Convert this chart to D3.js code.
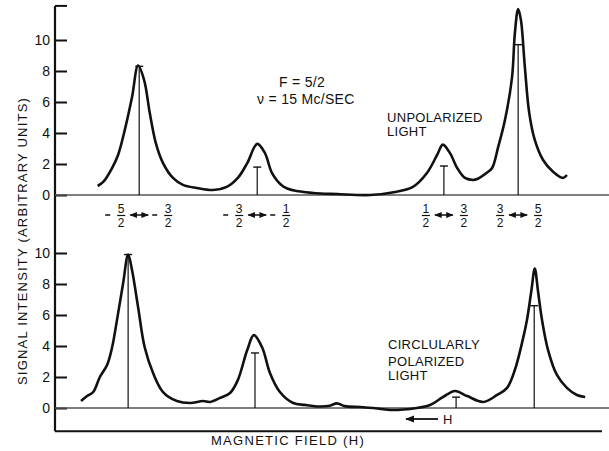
<!DOCTYPE html>
<html><head><meta charset="utf-8">
<script src="https://cdn.jsdelivr.net/npm/d3@7"></script>
<style>
body{margin:0;background:#fff;}
svg{display:block;}
text{font-family:"Liberation Sans",Arial,sans-serif;fill:#111;}
</style></head>
<body><svg id="c" width="609" height="451"></svg>
<script>
// ---- data (field in arbitrary units, intensity in arbitrary units) ----
const unpolField = [7.7,8.7,10.3,11.4,12.6,13.9,15.0,16.1,17.1,18.2,19.5,21.3,23.1,25.6,28.5,31.0,33.0,34.7,36.5,37.9,39.2,41.2,43.0,46.6,50.9,56.9,61.4,64.6,67.1,69.0,70.0,71.3,72.6,74.0,75.5,76.2,78.0,78.9,80.0,81.2,82.5,83.0,83.6,84.1,84.8,85.6,86.6,88.1,89.9,91.7,92.4];
const unpolSignal = [0.58,0.84,1.74,2.6,4.2,6.3,8.35,7.4,5.3,3.35,2.06,1.1,0.65,0.45,0.32,0.52,1.1,2.06,3.3,2.7,1.4,0.55,0.3,0.13,0.06,0.0,0.2,0.52,1.4,2.6,3.25,2.7,1.74,1.1,0.97,1.03,1.45,1.74,3.1,4.8,7.6,10.4,12.0,11.3,8.3,5.3,3.55,2.26,1.5,1.1,1.29];
const circField = [4.7,5.8,6.9,8.1,9.4,10.3,11.2,12.3,13.2,13.9,15.0,16.2,17.7,19.5,22.0,24.4,26.7,28.0,29.8,31.6,33.0,34.7,35.9,37.4,38.8,40.6,43.0,45.1,47.8,49.6,50.9,52.3,55.1,57.4,60.5,65.3,67.7,70.0,72.2,74.4,77.3,79.8,81.6,83.0,84.3,85.2,86.0,86.6,87.2,87.9,89.0,90.6,92.4,94.2,95.7];
const circSignal = [0.45,0.77,1.03,2.0,2.77,3.9,5.7,8.06,9.9,8.9,6.5,3.9,2.26,1.03,0.45,0.32,0.45,0.39,0.65,0.97,1.8,3.74,4.7,3.9,2.26,1.03,0.32,0.2,0.1,0.15,0.3,0.12,0.06,0.0,-0.13,0.0,0.19,0.7,1.1,0.77,0.39,0.84,1.3,2.45,4.2,5.7,7.6,9.0,7.5,5.7,3.74,2.13,1.3,0.84,0.71];
// theoretical line positions and heights
const unpolLineField = [15.2,36.5,70.2,83.6];
const unpolLineHeight = [8.3,1.8,1.87,9.7];
const circLineField = [13.2,36.1,72.4,86.5];
const circLineHeight = [9.9,3.55,0.7,6.6];
// transition labels  (m_F -> m_F')
const transLeft = [["-","5"],["-","3"],["","1"],["","3"]];
const transRight = [["-","3"],["-","1"],["","3"],["","5"]];
const yTicks = [0,2,4,6,8,10];

const svg = d3.select("#c");
const x = d3.scaleLinear().domain([0,100]).range([55,609]);
const yTop = d3.scaleLinear().domain([0,10]).range([195,40]);
const yBot = d3.scaleLinear().domain([0,10]).range([408,253]);

// vertical axis line (continuous)
svg.append("line").attr("x1",55).attr("x2",55).attr("y1",yTop(12.2)).attr("y2",yBot(-1.5))
  .attr("stroke","#111").attr("stroke-width",2.2);
// top stub tick
svg.append("line").attr("x1",55).attr("x2",67).attr("y1",yTop(12.2)).attr("y2",yTop(12.2))
  .attr("stroke","#111").attr("stroke-width",2);
// bottom x axis line
svg.append("line").attr("x1",55).attr("x2",602).attr("y1",yBot(-1.5)).attr("y2",yBot(-1.5))
  .attr("stroke","#111").attr("stroke-width",2.2);

function yAxis(scale){
  const g = svg.append("g").attr("transform","translate(55,0)")
    .call(d3.axisRight(scale).tickValues(yTicks).tickSize(12).tickFormat(""));
  g.select(".domain").remove();
  g.selectAll(".tick line").attr("stroke","#111").attr("stroke-width",2);
  const lab = svg.append("g");
  lab.selectAll("text").data(yTicks).join("text")
    .attr("x",50).attr("y",d=>scale(d)+5).attr("text-anchor","end")
    .style("font-size","14px").text(d=>d);
}
yAxis(yTop); yAxis(yBot);

// baselines
[[yTop,609],[yBot,609]].forEach(([s,e])=>{
  svg.append("line").attr("x1",55).attr("x2",e).attr("y1",s(0)).attr("y2",s(0))
    .attr("stroke","#555").attr("stroke-width",1.4);
});

function drawPanel(fx, fy, ys, lf, lh){
  const data = fx.map((f,i)=>[f,fy[i]]);
  svg.append("path").datum(data)
    .attr("d", d3.line().x(d=>x(d[0])).y(d=>ys(d[1])).curve(d3.curveCatmullRom.alpha(0.5)))
    .attr("fill","none").attr("stroke","#111").attr("stroke-width",2.6).attr("stroke-linejoin","round");
  const g = svg.append("g");
  lf.forEach((f,i)=>{
    g.append("line").attr("x1",x(f)).attr("x2",x(f)).attr("y1",ys(0)).attr("y2",ys(lh[i]))
      .attr("stroke","#111").attr("stroke-width",1.2);
    g.append("line").attr("x1",x(f)-4).attr("x2",x(f)+4).attr("y1",ys(lh[i])).attr("y2",ys(lh[i]))
      .attr("stroke","#111").attr("stroke-width",1.4);
  });
}
drawPanel(unpolField, unpolSignal, yTop, unpolLineField, unpolLineHeight);
drawPanel(circField, circSignal, yBot, circLineField, circLineHeight);

// arrowheads
const defs = svg.append("defs");
function marker(id, orient){
  defs.append("marker").attr("id",id).attr("viewBox","0 0 10 10").attr("refX",9).attr("refY",5)
    .attr("markerWidth",5).attr("markerHeight",5).attr("orient",orient)
    .append("path").attr("d","M0,1 L10,5 L0,9 Z").attr("fill","#111");
}
marker("ah","auto"); marker("ahs","auto-start-reverse");

// transition labels under top panel
function frac(g, cx, sign, num){
  if(sign) g.append("line").attr("x1",cx-16).attr("x2",cx-11).attr("y1",215).attr("y2",215)
    .attr("stroke","#111").attr("stroke-width",1.5);
  g.append("text").attr("x",cx).attr("y",213).attr("text-anchor","middle").style("font-size","12px").text(num);
  g.append("line").attr("x1",cx-4).attr("x2",cx+4).attr("y1",215.5).attr("y2",215.5)
    .attr("stroke","#111").attr("stroke-width",1.2);
  g.append("text").attr("x",cx).attr("y",227).attr("text-anchor","middle").style("font-size","12px").text("2");
}
unpolLineField.forEach((f,i)=>{
  const c = x(f);
  const g = svg.append("g");
  frac(g, c-18, transLeft[i][0], transLeft[i][1]);
  frac(g, c+(transRight[i][0]?29:20), transRight[i][0], transRight[i][1]);
  g.append("line").attr("x1",c-9).attr("x2",c+9).attr("y1",215).attr("y2",215)
    .attr("stroke","#111").attr("stroke-width",1.5)
    .attr("marker-start","url(#ahs)").attr("marker-end","url(#ah)");
});

// annotations
const ann = svg.append("g").style("font-size","13px").style("letter-spacing","0.3px");
ann.append("text").attr("x",302).attr("y",87).attr("text-anchor","middle").style("font-size","14px").text("F = 5/2");
ann.append("text").attr("x",257).attr("y",104).style("font-size","14px").text("\u03BD = 15 Mc/SEC");
ann.append("text").attr("x",387).attr("y",122).text("UNPOLARIZED");
ann.append("text").attr("x",387).attr("y",136).text("LIGHT");
ann.append("text").attr("x",388).attr("y",349).text("CIRCLULARLY");
ann.append("text").attr("x",388).attr("y",366).text("POLARIZED");
ann.append("text").attr("x",388).attr("y",380).text("LIGHT");
// H direction arrow
svg.append("line").attr("x1",438).attr("x2",406).attr("y1",419).attr("y2",419)
  .attr("stroke","#111").attr("stroke-width",1.8).attr("marker-end","url(#ah)");
ann.append("text").attr("x",443).attr("y",424).text("H");

// axis titles
svg.append("text").attr("x",288).attr("y",445).attr("text-anchor","middle")
  .style("font-size","13px").style("letter-spacing","1.3px").text("MAGNETIC FIELD (H)");
svg.append("text").attr("transform","translate(27,241) rotate(-90)").attr("text-anchor","middle")
  .style("font-size","13px").style("letter-spacing","1.2px").text("SIGNAL INTENSITY (ARBITRARY UNITS)");
</script></body></html>
